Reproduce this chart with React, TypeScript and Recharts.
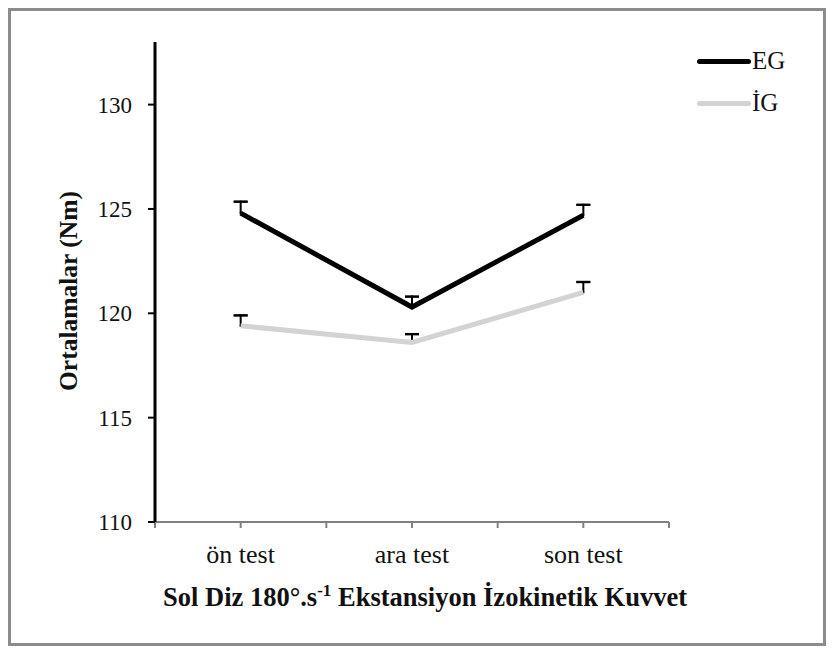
import { LineChart, Line, XAxis, YAxis, ErrorBar } from "recharts";

const categories = ["ön test", "ara test", "son test"];
const egValues = [124.8, 120.3, 124.7];
const egErrors = [0.55, 0.5, 0.5];
const igValues = [119.4, 118.6, 121.0];
const igErrors = [0.5, 0.4, 0.5];
const yTicks = [110, 115, 120, 125, 130];

const FONT = '"Liberation Serif", "Times New Roman", serif';

// x is numeric so the axis can carry ticks at band edges as well as centres
const data = categories.map((name, i) => ({
  x: i + 0.5,
  name,
  eg: egValues[i],
  egTop: egValues[i] + egErrors[i],
  egStem: [egErrors[i], 0],
  ig: igValues[i],
  igTop: igValues[i] + igErrors[i],
  igStem: [igErrors[i], 0],
  cap: [0.01, 0.01],
}));

const xTicks = [0, 0.5, 1, 1.5, 2, 2.5, 3];
const xLabel = (v: number) => {
  const i = v - 0.5;
  return Number.isInteger(i) && categories[i] ? categories[i] : "";
};

const LegendRow = ({ color, label, top }: { color: string; label: string; top: number }) => (
  <div style={{ position: "absolute", left: 686, top: top - 15, display: "flex", alignItems: "center", height: 30 }}>
    <div style={{ width: 54, height: 5, background: color, borderRadius: 3 }} />
    <span style={{ fontFamily: FONT, fontSize: 25, color: "#111", marginLeft: 1, lineHeight: "30px" }}>{label}</span>
  </div>
);

// hidden carrier lines for the upper-only error bars
const stemLine = (key: string, errKey: string) => (
  <Line key={key + "-stem"} dataKey={key} stroke="none" dot={false} activeDot={false} legendType="none" isAnimationActive={false}>
    <ErrorBar dataKey={errKey} direction="y" width={1} stroke="#000" strokeWidth={2} />
  </Line>
);
const capLine = (key: string) => (
  <Line key={key + "-cap"} dataKey={key} stroke="none" dot={false} activeDot={false} legendType="none" isAnimationActive={false}>
    <ErrorBar dataKey="cap" direction="y" width={7} stroke="#000" strokeWidth={2} />
  </Line>
);

export default function App() {
  return (
    <div style={{ position: "relative", width: 812, height: 632, border: "3px solid #8c8c8c", background: "#fff", fontFamily: FONT }}>
      <style>{`.recharts-text { font-family: ${FONT}; }`}</style>
      <LineChart width={812} height={632} data={data} margin={{ top: 31, right: 154, left: 64, bottom: 91 }}>
        <XAxis
          dataKey="x"
          type="number"
          domain={[0, 3]}
          ticks={xTicks}
          tickFormatter={xLabel}
          interval={0}
          stroke="#808080"
          axisLine={{ stroke: "#808080", strokeWidth: 2 }}
          tickLine={{ stroke: "#808080", strokeWidth: 2 }}
          tickSize={6}
          tickMargin={17}
          tick={{ fill: "#111", fontSize: 26, fontFamily: FONT }}
          height={30}
        />
        <YAxis
          domain={[110, 133]}
          ticks={yTicks}
          interval={0}
          width={80}
          axisLine={{ stroke: "#000", strokeWidth: 3 }}
          tickLine={{ stroke: "#000", strokeWidth: 2 }}
          tickSize={7}
          tickMargin={16}
          tick={{ fill: "#111", fontSize: 23, fontFamily: FONT }}
        />
        {stemLine("egTop", "egStem")}
        {capLine("egTop")}
        {stemLine("igTop", "igStem")}
        {capLine("igTop")}
        <Line type="linear" dataKey="ig" stroke="#d3d3d3" strokeWidth={5} dot={false} activeDot={false} isAnimationActive={false} />
        <Line type="linear" dataKey="eg" stroke="#000" strokeWidth={5} dot={false} activeDot={false} isAnimationActive={false} />
      </LineChart>

      <div
        style={{
          position: "absolute",
          left: 58,
          top: 280,
          transform: "translate(-50%, -50%) rotate(-90deg)",
          fontFamily: FONT,
          fontWeight: "bold",
          fontSize: 25.5,
          lineHeight: "28px",
          whiteSpace: "nowrap",
          color: "#111",
        }}
      >
        Ortalamalar (Nm)
      </div>
      <div
        style={{
          position: "absolute",
          left: 414,
          top: 586,
          transform: "translate(-50%, -50%)",
          fontFamily: FONT,
          fontWeight: "bold",
          fontSize: 26.5,
          lineHeight: "30px",
          whiteSpace: "nowrap",
          color: "#111",
        }}
      >
        Sol Diz 180°.s<sup style={{ fontSize: 17, lineHeight: 0 }}>-1</sup> Ekstansiyon İzokinetik Kuvvet
      </div>

      <LegendRow color="#000" label="EG" top={50} />
      <LegendRow color="#d3d3d3" label="İG" top={92} />
    </div>
  );
}
